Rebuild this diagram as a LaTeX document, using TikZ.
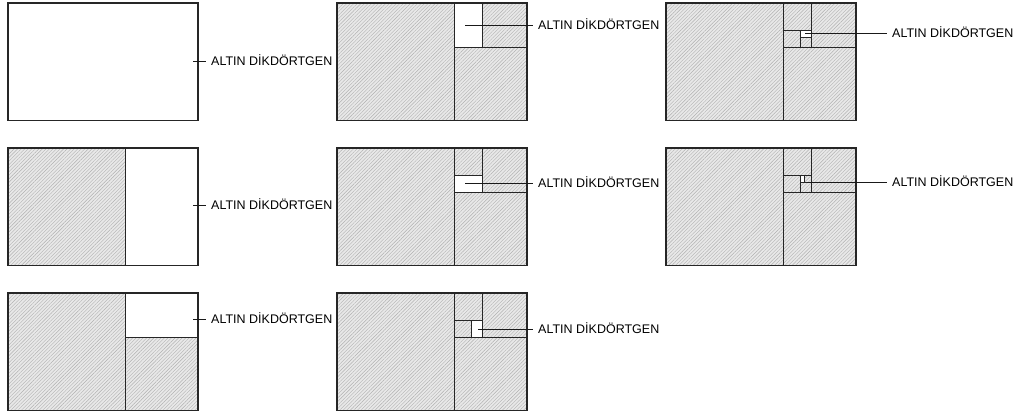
\documentclass[tikz,border=0pt]{standalone}
\usepackage{fontspec}
\setmainfont{Liberation Sans}
\usetikzlibrary{patterns.meta}
\tikzset{
  hatchfill/.style={fill=gray!18, postaction={pattern={Lines[angle=45,distance=2.5pt,line width=0.4pt]}, pattern color=gray!62}},
  edge/.style={draw=black!85, line width=1.1pt},
  leader/.style={draw=black!90, line width=0.9pt},
  lbl/.style={anchor=west, inner xsep=5pt, inner ysep=0pt, text height=9pt, text depth=0pt,
    font=\fontsize{12.5}{15}\selectfont, text=black}
}
\newcommand\gpanel[3]{%
\begin{scope}[shift={(#1,#2)}]
\ifnum#3>0 \fill[hatchfill] (0,0) rectangle (190,117.43);\fi
\ifcase#3
 \or \fill[white] (117.43,0) rectangle (190,117.43);
 \or \fill[white] (117.43,0) rectangle (190,44.85);
 \or \fill[white] (117.43,0) rectangle (145.15,44.85);
 \or \fill[white] (117.43,27.72) rectangle (145.15,44.85);
 \or \fill[white] (134.56,27.72) rectangle (145.15,44.85);
 \or \fill[white] (134.56,27.72) rectangle (145.15,34.26);
 \or \fill[white] (134.56,27.72) rectangle (138.60,34.26);
\fi
\ifnum#3>0 \draw[edge] (117.43,0) -- (117.43,117.43);\fi
\ifnum#3>1 \draw[edge] (117.43,44.85) -- (190,44.85);\fi
\ifnum#3>2 \draw[edge] (145.15,0) -- (145.15,44.85);\fi
\ifnum#3>3 \draw[edge] (117.43,27.72) -- (145.15,27.72);\fi
\ifnum#3>4 \draw[edge] (134.56,27.72) -- (134.56,44.85);\fi
\ifnum#3>5 \draw[edge] (134.56,34.26) -- (145.15,34.26);\fi
\ifnum#3>6 \draw[edge] (138.60,27.72) -- (138.60,34.26);\fi
\draw[edge] (0,0) rectangle (190,117.43);
\end{scope}}
\begin{document}
\begin{tikzpicture}[x=1pt,y=-1pt]
\useasboundingbox[fill=white] (0,0) rectangle (1027,414);
\gpanel{8}{3}{0}
\gpanel{8}{148}{1}
\gpanel{8}{293}{2}
\gpanel{337}{3}{3}
\gpanel{337}{148}{4}
\gpanel{337}{293}{5}
\gpanel{666}{3}{6}
\gpanel{666}{148}{7}
% labels
\node[lbl] (l1) at (206,61) {ALTIN DİKDÖRTGEN};
\node[lbl] (l2) at (206,205) {ALTIN DİKDÖRTGEN};
\node[lbl] (l3) at (206,319) {ALTIN DİKDÖRTGEN};
\node[lbl] (l4) at (533,25) {ALTIN DİKDÖRTGEN};
\node[lbl] (l5) at (533,183) {ALTIN DİKDÖRTGEN};
\node[lbl] (l6) at (533,329) {ALTIN DİKDÖRTGEN};
\node[lbl] (l7) at (887,33) {ALTIN DİKDÖRTGEN};
\node[lbl] (l8) at (887,182) {ALTIN DİKDÖRTGEN};
\coordinate (c1) at (193,61);
\coordinate (c2) at (193,205);
\coordinate (c3) at (193,319);
\coordinate (c4) at (465,25);
\coordinate (c5) at (465,183);
\coordinate (c6) at (478,329);
\coordinate (c7) at (805,33);
\coordinate (c8) at (807,182);
\foreach \i in {1,...,8} \draw[leader] (c\i) -- (l\i.west);
\end{tikzpicture}
\end{document}
